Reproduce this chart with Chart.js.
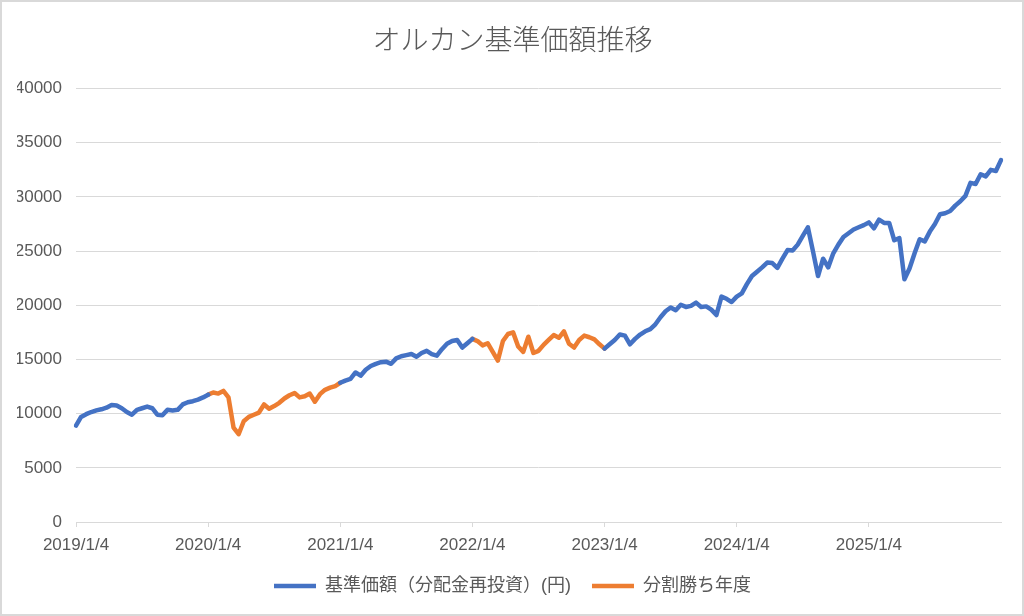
<!DOCTYPE html>
<html lang="ja">
<head>
<meta charset="utf-8">
<title>オルカン基準価額推移</title>
<script src="https://cdn.jsdelivr.net/npm/chart.js@4/dist/chart.umd.min.js"></script>
<style>
  html, body { margin: 0; padding: 0; background: #fff; }
</style>
</head>
<body>
<canvas id="myChart" width="1024" height="616"></canvas>
<script>
// tick labels on the x axis, one per year
const yearTicks = ['2019/1/4', '2020/1/4', '2021/1/4', '2022/1/4', '2023/1/4', '2024/1/4', '2025/1/4'];
const pointsPerYear = 26; // roughly one value every two weeks

// years painted orange (分割勝ち年度)
const winYears = ['2020/1/4', '2022/1/4'];

// 基準価額（分配金再投資）
const nav2019 = [8900, 9700, 9950, 10150, 10300, 10400, 10550, 10800, 10750, 10500, 10150, 9900, 10350, 10500, 10650, 10500, 9900, 9850, 10350, 10300, 10350, 10850, 11050, 11150, 11300, 11500];
const nav2020 = [11750, 11950, 11850, 12100, 11500, 8700, 8100, 9300, 9700, 9900, 10100, 10850, 10450, 10700, 11000, 11400, 11700, 11900, 11500, 11600, 11850, 11100, 11800, 12200, 12400, 12550];
const nav2021 = [12850, 13050, 13200, 13800, 13500, 14050, 14400, 14600, 14750, 14800, 14600, 15100, 15300, 15400, 15500, 15250, 15600, 15800, 15500, 15350, 15950, 16450, 16700, 16800, 16100, 16500];
const nav2022 = [16900, 16700, 16300, 16500, 15700, 14900, 16700, 17350, 17500, 16200, 15700, 17100, 15600, 15800, 16350, 16800, 17250, 17000, 17600, 16450, 16100, 16800, 17200, 17050, 16850, 16400];
const nav2023 = [16000, 16400, 16800, 17300, 17200, 16400, 16900, 17300, 17600, 17800, 18250, 18900, 19450, 19800, 19550, 20050, 19850, 19950, 20250, 19850, 19900, 19600, 19100, 20800, 20600, 20300];
const nav2024 = [20800, 21100, 21950, 22700, 23100, 23500, 23950, 23900, 23450, 24300, 25100, 25050, 25600, 26400, 27200, 25000, 22700, 24300, 23500, 24800, 25600, 26300, 26650, 27000, 27200, 27400];
const nav2025 = [27650, 27100, 27900, 27600, 27600, 26000, 26200, 22400, 23400, 24800, 26100, 25900, 26800, 27500, 28400, 28500, 28700, 29200, 29600, 30100, 31300, 31200, 32100, 31900, 32500, 32400, 33400];

const navValues = [].concat(nav2019, nav2020, nav2021, nav2022, nav2023, nav2024, nav2025);
const labels = navValues.map((v, i) => i);

const winIdx = winYears.map(y => yearTicks.indexOf(y));

function inWin(i, strict) {
  for (let k of winIdx) {
    let a = k * pointsPerYear, b = (k + 1) * pointsPerYear;
    if (strict ? (i > a && i < b) : (i >= a && i <= b)) return true;
  }
  return false;
}

const blueData = navValues.map((v, i) => inWin(i, true) ? null : v);
const orangeData = navValues.map((v, i) => inWin(i, false) ? v : null);

const FONT = '"Liberation Sans", "Noto Sans CJK JP", sans-serif';
const TEXT = '#595959';
const GRID = '#d9d9d9';

const borderPlugin = {
  id: 'frame',
  afterDraw(chart) {
    const ctx = chart.ctx;
    ctx.save();
    ctx.strokeStyle = GRID;
    ctx.lineWidth = 2;
    ctx.strokeRect(1, 1, chart.width - 2, chart.height - 2);
    ctx.restore();
  }
};

const data = {
  labels: labels,
  datasets: [
    {
      label: '基準価額（分配金再投資）(円)',
      data: blueData,
      borderColor: '#4472C4',
      backgroundColor: '#4472C4',
      borderWidth: 4.5,
      borderCapStyle: 'round',
      borderJoinStyle: 'round',
      pointRadius: 0,
      tension: 0
    },
    {
      label: '分割勝ち年度',
      data: orangeData,
      borderColor: '#ED7D31',
      backgroundColor: '#ED7D31',
      borderWidth: 4.5,
      borderCapStyle: 'round',
      borderJoinStyle: 'round',
      pointRadius: 0,
      tension: 0
    }
  ]
};

const config = {
  type: 'line',
  data: data,
  plugins: [borderPlugin],
  options: {
    responsive: false,
    animation: false,
    layout: { padding: { left: 17, right: 16, top: 9, bottom: 11 } },
    plugins: {
      title: {
        display: true,
        text: 'オルカン基準価額推移',
        color: TEXT,
        font: { family: '"Noto Sans CJK JP", sans-serif', size: 28, weight: 300 },
        padding: { top: 14, bottom: 32 }
      },
      legend: {
        position: 'bottom',
        labels: {
          usePointStyle: true,
          pointStyle: 'line',
          pointStyleWidth: 42,
          color: TEXT,
          font: { family: FONT, size: 18 },
          padding: 21
        }
      },
      tooltip: { enabled: false }
    },
    scales: {
      x: {
        type: 'category',
        offset: false,
        afterFit: function (scale) { scale.height = 34; },
        grid: {
          drawOnChartArea: false,
          tickLength: 5,
          color: ctx => (ctx.index % pointsPerYear === 0 ? GRID : 'rgba(0,0,0,0)')
        },
        border: { display: true, color: GRID },
        ticks: {
          autoSkip: false,
          maxRotation: 0,
          padding: 8,
          color: TEXT,
          font: { family: FONT, size: 17 },
          callback: function (val, idx) {
            return idx % pointsPerYear === 0 ? yearTicks[idx / pointsPerYear] : '';
          }
        }
      },
      y: {
        min: 0,
        max: 40000,
        afterFit: function (scale) { scale.width = 59; },
        grid: { color: GRID, drawTicks: false },
        border: { display: false },
        ticks: {
          stepSize: 5000,
          padding: 14,
          color: TEXT,
          font: { family: FONT, size: 17 },
          callback: v => String(v)
        }
      },
      // empty strip on the right so the plot stops where the reference does
      yRight: {
        position: 'right',
        min: 0,
        max: 40000,
        afterFit: function (scale) { scale.width = 7; },
        grid: { display: false },
        border: { display: false },
        ticks: { display: false }
      }
    }
  }
};

const myChart = new Chart(document.getElementById('myChart'), config);
</script>
</body>
</html>
